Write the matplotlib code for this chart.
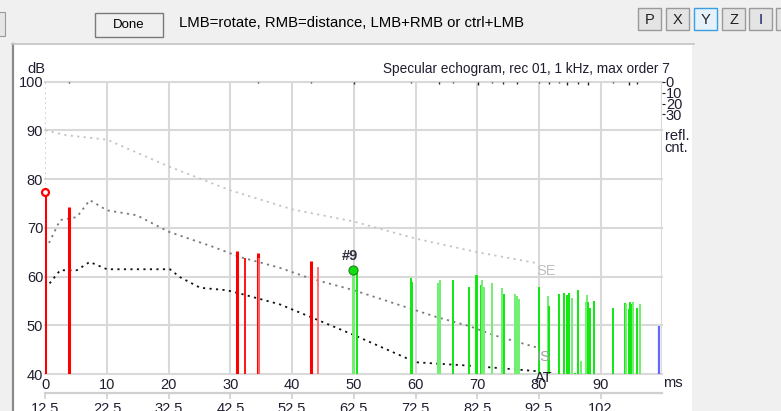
import numpy as np
import matplotlib
matplotlib.use("Agg")
import matplotlib.pyplot as plt
from matplotlib.patches import Rectangle
from matplotlib.lines import Line2D

plt.rcParams['font.family'] = ['Liberation Sans', 'DejaVu Sans']

# --- data ---
red_t = [0, 3.84, 31.1, 32.4, 34.4, 34.6, 43.1, 44.2]
red_db = [77.4, 74.3, 65.3, 63.9, 64.9, 63.8, 63.2, 61.9]
red_light = [0, 0, 0, 0, 0, 1, 0, 1]

green_t = [49.8, 50.0, 50.5, 59.2, 59.4, 63.6, 63.9, 66.0, 68.7, 69.8, 70.0,
           70.6, 70.8, 71.1, 72.4, 74.0, 74.4, 76.2, 76.5, 76.8, 80.0, 81.5,
           81.7, 83.2, 84.1, 84.6, 84.9, 85.4, 85.9, 86.3, 86.8, 87.6, 87.8,
           88.0, 88.3, 89.0, 92.0, 94.0, 94.1, 94.6, 94.7, 94.9, 95.3, 95.9, 96.4]
green_db = [61.4, 61.0, 60.8, 59.8, 58.9, 58.6, 59.3, 59.3, 57.9, 60.4, 60.4,
            58.2, 59.3, 57.9, 58.6, 57.7, 56.5, 56.5, 56.0, 55.3, 57.9, 56.0,
            54.0, 56.4, 56.7, 56.2, 56.7, 55.7, 40.3, 57.2, 42.7, 54.7, 56.2,
            54.8, 53.5, 55.0, 53.5, 54.5, 54.3, 53.3, 54.8, 54.3, 54.7, 53.5, 54.3]
green_light = [1, 1, 0, 0, 0, 1, 1, 0, 0, 0, 0,
               0, 1, 1, 1, 1, 0, 1, 1, 1, 0, 1,
               0, 0, 0, 0, 0, 1, 0, 0, 1, 1, 1,
               0, 0, 0, 0, 0, 1, 0, 0, 0, 1, 0, 1]

blue_t = [99.4]
blue_db = [49.8]

se_t = [0, 3.5, 10, 20, 30, 40, 50, 60, 70, 79.5]
se_db = [90, 89.0, 88.1, 82.6, 77.7, 73.8, 71.3, 67.8, 65.0, 62.8]

is_t = [0.6, 2.4, 5.1, 7.2, 10, 14.8, 20, 27.2, 31.6, 38, 43, 50, 59, 63.4, 68.8, 72.6, 79.5]
is_db = [66.9, 71.6, 72.2, 75.7, 73.6, 72.6, 69.2, 66.1, 64.0, 61.8, 59.6, 57.2, 53.5, 51.7, 49.8, 48.0, 45.5]

at_t = [0.7, 2.4, 5.1, 7.2, 10, 20.2, 21.8, 25.1, 29.4, 31.6, 38, 43, 50, 59, 60.2, 68.8, 79.5]
at_db = [58.6, 61.3, 61.3, 63.0, 61.5, 61.5, 59.9, 57.7, 57.2, 56.5, 54.3, 51.7, 48.0, 43.0, 42.4, 41.7, 40.6]

cnt_t = [3.8, 34.5, 43.1, 50.0, 59.3, 63.8, 66.0, 70.2, 72.4, 74.2, 76.5,
         80.0, 81.6, 83.2, 84.6, 86.3, 88.0, 92.0, 94.6, 95.9]
cnt_n = [1, 1, 1, 2, 1, 2, 1, 3, 1, 2, 2, 1, 2, 1, 3, 2, 3, 1, 3, 2]

x_ticks = [0, 10, 20, 30, 40, 50, 60, 70, 80, 90]
y_ticks = [40, 50, 60, 70, 80, 90, 100]
alt_ticks = [12.5, 22.5, 32.5, 42.5, 52.5, 62.5, 72.5, 82.5, 92.5, 102.5]
alt_labels = ['12.5', '22.5', '32.5', '42.5', '52.5', '62.5', '72.5', '82.5', '92.5', '102']
cnt_ticks = [0, 10, 20, 30]

W, H = 781, 411
txt = '#1e1e30'
gridc = '#d9d9d9'


def fx(px):
    return px / W


def fy(py):
    return 1 - py / H


fig = plt.figure(figsize=(W / 100, H / 100), dpi=100, facecolor='#f0f0f0')

# white panel + border (behind the axes)
fig.patches.append(Rectangle((fx(14), 0), fx(692 - 14), fy(45), transform=fig.transFigure,
                             facecolor='white', edgecolor='none', zorder=-5))
fig.lines.append(Line2D([fx(13), fx(13)], [0, fy(44)], transform=fig.transFigure, color='#8a8a8a', lw=1.6, zorder=-4))
fig.lines.append(Line2D([fx(12), fx(694)], [fy(44), fy(44)], transform=fig.transFigure, color='#c4c4c4', lw=1.2, zorder=-4))

# toolbar
fig.patches.append(Rectangle((fx(95), fy(37)), fx(68), fy(13) - fy(37), transform=fig.transFigure,
                             facecolor='#f0f0f0', edgecolor='#7a7a7a', lw=1.0, zorder=-4))
fig.text(fx(129), fy(25), 'Done', ha='center', va='center', fontsize=9.5, color='black')
fig.text(fx(179), fy(23), 'LMB=rotate, RMB=distance, LMB+RMB or ctrl+LMB', ha='left', va='center',
         fontsize=10.7, color='black')
fig.patches.append(Rectangle((fx(-10), fy(36)), fx(15), fy(12) - fy(36), transform=fig.transFigure,
                             facecolor='#e6e6e6', edgecolor='#9a9a9a', lw=0.8, zorder=-4))
for lbl, x0 in zip(['P', 'X', 'Y', 'Z', 'I', ''], [638, 666, 694, 722, 749, 776]):
    hl = lbl == 'Y'
    fig.patches.append(Rectangle((fx(x0), fy(30)), fx(23), fy(8) - fy(30), transform=fig.transFigure,
                                 facecolor='#e5f1fb' if hl else '#e4e4e4',
                                 edgecolor='#3c9ee0' if hl else '#9a9a9a', lw=1.0, zorder=-4))
    fig.text(fx(x0 + 11.5), fy(19.5), lbl, ha='center', va='center', fontsize=10.5,
             color='#101060' if lbl == 'I' else '#202020')

# main axes
ax = fig.add_axes([fx(45.3), fy(374), fx(662.3 - 45.3), fy(81.7) - fy(374)])
ax.set_facecolor('white')
ax.set_xlim(0, 100)
ax.set_ylim(40, 100)
for s in ax.spines.values():
    s.set_visible(False)
for xv in x_ticks[1:] + [100]:
    ax.axvline(xv, color=gridc, lw=1.5, zorder=0)
for yv in y_ticks:
    ax.axhline(yv, color=gridc, lw=1.5, zorder=0, clip_on=False)
ax.plot([0, 0], [40, 100], color='#c8c8c8', lw=1.2, ls=(0, (1, 2)), zorder=1)

ax.set_xticks(x_ticks)
ax.set_yticks(y_ticks)
ax.set_yticklabels([str(v) for v in y_ticks])
ax.tick_params(axis='both', length=0, labelsize=10.5, labelcolor=txt)
ax.tick_params(axis='x', pad=3)
ax.tick_params(axis='y', pad=1.5)

# decay curves
ax.plot(se_t, se_db, color='#c4c4c4', lw=1.3, ls=(0, (1.2, 2.4)), zorder=2)
ax.plot(is_t, is_db, color='#7a7a7a', lw=1.3, ls=(0, (1.2, 2.4)), zorder=2)
ax.plot(at_t, at_db, color='#101010', lw=1.3, ls=(0, (1.2, 2.4)), zorder=2)

# reflection bars
for t, d, lt in zip(red_t, red_db, red_light):
    lw = 2.2 if t in (0, 3.84, 31.1, 34.4, 43.1) else 1.3
    ax.vlines(t, 40, d, color='#ff6a6a' if lt else '#ff0000', lw=lw, zorder=3)
for t, d, lt in zip(green_t, green_db, green_light):
    ax.vlines(t, 40, d, color='#70f070' if lt else '#10e810', lw=1.4, zorder=3)
ax.vlines(blue_t, 40, blue_db, color='#6464ff', lw=1.6, zorder=3)

ax.plot([red_t[0]], [red_db[0]], marker='o', ms=5, mfc='white', mec='#ff0000', mew=1.6, zorder=4, clip_on=False)
ax.plot([green_t[0]], [green_db[0]], marker='o', ms=6.5, mfc='#10e010', mec='#208020', mew=0.8, zorder=4)
ax.text(49.4, 64.3, '#9', ha='center', va='center', fontsize=10.5, fontweight='bold', color='#303040', zorder=5)

ax.text(79.6, 61.2, 'SE', ha='left', va='center', fontsize=10.5, color='#c0c0c0', zorder=5)
ax.text(79.6, 43.5, 'IS', ha='left', va='center', fontsize=10.5, color='#a0a0a0', zorder=5)
ax.text(80.8, 39.1, 'AT', ha='center', va='center', fontsize=10.5, color=txt, clip_on=False, zorder=5)
ax.text(101.7, 38.15, 'ms', ha='center', va='center', fontsize=10.5, color=txt, clip_on=False)
ax.text(-1.5, 102.7, 'dB', ha='center', va='center', fontsize=10.5, color=txt, clip_on=False)
ax.text(101.2, 102.7, 'Specular echogram, rec 01, 1 kHz, max order 7', ha='right', va='center',
        fontsize=9.8, color=txt, clip_on=False)
ax.text(100.4, 90.3, 'refl.\ncnt.', ha='left', va='top', fontsize=10.5, color=txt,
        linespacing=0.8, clip_on=False)

# reflection count scale on the right, 0 at top
axr = ax.twinx()
axr.set_ylim(268, 0)
for s in axr.spines.values():
    s.set_visible(False)
axr.set_yticks(cnt_ticks)
axr.set_yticklabels([str(v) for v in cnt_ticks])
axr.tick_params(axis='y', length=2.5, width=0.8, pad=0, labelsize=10.5, labelcolor=txt, color='#202020')
axr.vlines(cnt_t, 0, cnt_n, color='#202020', lw=1.0)

# shifted time axis below
sec = ax.secondary_xaxis(-0.065, functions=(lambda x: x + 12.5, lambda x: x - 12.5))
sec.set_xticks(alt_ticks)
sec.set_xticklabels(alt_labels)
sec.spines['bottom'].set_color('#d0d0d0')
sec.spines['bottom'].set_linewidth(1.6)
sec.spines['bottom'].set_bounds(12.5, 112.5)
sec.tick_params(axis='x', length=4, width=1.2, color='#d0d0d0', labelsize=10.5, labelcolor=txt, pad=2.8)

fig.savefig('out.png', dpi=100, facecolor=fig.get_facecolor())
